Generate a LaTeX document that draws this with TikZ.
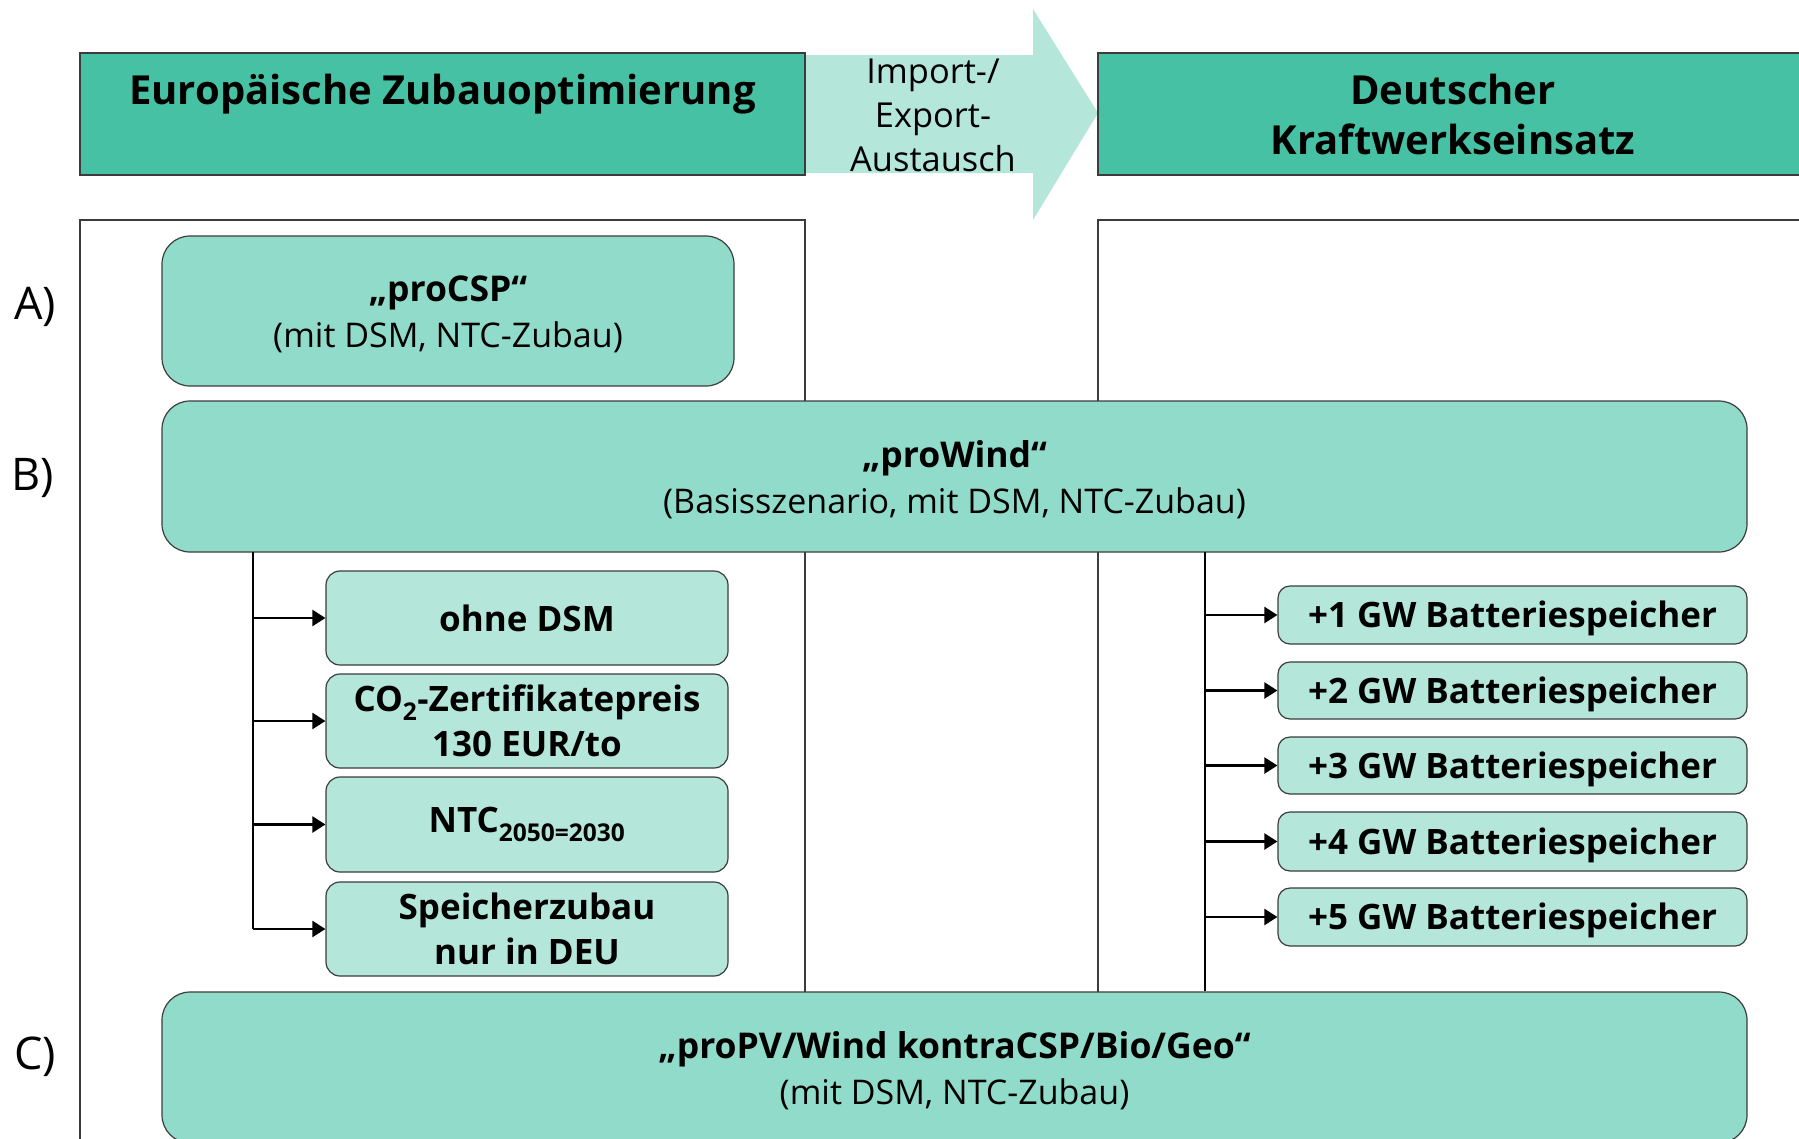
\documentclass[tikz,border=0pt]{standalone}
\usepackage{fontspec}
\setmainfont{Open Sans}
\usetikzlibrary{arrows.meta}
\definecolor{hdrcol}{RGB}{70,193,163}
\definecolor{maincol}{RGB}{145,219,202}
\definecolor{lightcol}{RGB}{180,230,218}
\definecolor{edgecol}{RGB}{60,60,60}
\tikzset{
  hdr/.style={draw=edgecol,line width=1.3pt,fill=hdrcol,inner sep=0pt},
  mainbox/.style={draw=edgecol,line width=1.2pt,fill=maincol,rounded corners=28pt,inner sep=0pt,align=center,
     font=\fontsize{34}{46}\selectfont},
  childbox/.style={draw=edgecol,line width=1.2pt,fill=lightcol,rounded corners=14pt,inner sep=0pt,align=center,
     font=\fontsize{35}{45}\selectfont\bfseries},
  battbox/.style={draw=edgecol,line width=1.2pt,fill=lightcol,rounded corners=12pt,inner sep=0pt,align=center,
     font=\fontsize{35}{42}\selectfont\bfseries,text height=33pt,text depth=8pt},
  frame/.style={draw=edgecol,line width=1.2pt},
  branch/.style={draw=black,line width=2.3pt},
  barrow/.style={draw=black,line width=2.3pt,-{Triangle[length=13pt,width=16pt]}},
  lbl/.style={font=\fontsize{45}{50}\selectfont},
}
\newcommand{\ttl}[1]{{\fontsize{35.5}{46}\selectfont\bfseries\rule{0pt}{33pt}#1}}
\begin{document}
\begin{tikzpicture}[x=1pt,y=-1pt]
\useasboundingbox (0,0) rectangle (1799,1138);
\begin{scope}
\clip (0,0) rectangle (1799,1138);
% import/export arrow
\fill[lightcol] (805,55) -- (1033,55) -- (1033,9) -- (1098,113) -- (1033,220) -- (1033,173) -- (805,173) -- cycle;
\node[align=center,font=\fontsize{34.4}{44}\selectfont] (imp) at (933,115) {Import-/\\Export-\\Austausch};
% headers
\node[hdr,minimum width=725pt,minimum height=122pt] (hl) at (442.5,114) {};
\node[font=\fontsize{40}{50}\selectfont\bfseries] (hlt) at (442.5,94) {Europäische Zubauoptimierung};
\node[hdr,minimum width=710pt,minimum height=122pt,align=center,font=\fontsize{40}{50}\selectfont\bfseries] (hr) at (1453,114) {Deutscher\\Kraftwerkseinsatz};
% frames
\draw[frame] (80,1150) -- (80,220) -- (805,220) -- (805,401);
\draw[frame] (805,552) -- (805,992);
\draw[frame] (1820,220) -- (1098,220) -- (1098,401);
\draw[frame] (1098,552) -- (1098,992);
% main boxes
\node[mainbox,minimum width=572pt,minimum height=150pt] (csp) at (448,311)
  {\ttl{„proCSP“}\\(mit DSM, NTC-Zubau)};
\node[mainbox,minimum width=1585pt,minimum height=151pt] (wind) at (954.5,476.5)
  {\ttl{„proWind“}\\(Basisszenario, mit DSM, NTC-Zubau)};
\node[mainbox,minimum width=1585pt,minimum height=151pt] (pv) at (954.5,1067.5)
  {\ttl{„proPV/Wind kontraCSP/Bio/Geo“}\\(mit DSM, NTC-Zubau)};
% child boxes
\node[childbox,minimum width=402pt,minimum height=94pt] (ohne) at (527,618) {ohne DSM};
\node[childbox,minimum width=402pt,minimum height=94pt] (co2) at (527,721) {CO\textsubscript{2}-Zertifikatepreis\\130 EUR/to};
\node[childbox,minimum width=402pt,minimum height=95pt] (ntc) at (527,824.5) {NTC\textsubscript{2050=2030}};
\node[childbox,minimum width=402pt,minimum height=94pt] (spz) at (527,929) {Speicherzubau\\nur in DEU};
% battery boxes
\node[battbox,minimum width=469pt,minimum height=58pt] (b1) at (1512.5,615) {+1 GW Batteriespeicher};
\node[battbox,minimum width=469pt,minimum height=57pt] (b2) at (1512.5,690.5) {+2 GW Batteriespeicher};
\node[battbox,minimum width=469pt,minimum height=57pt] (b3) at (1512.5,765.5) {+3 GW Batteriespeicher};
\node[battbox,minimum width=469pt,minimum height=59pt] (b4) at (1512.5,841.5) {+4 GW Batteriespeicher};
\node[battbox,minimum width=469pt,minimum height=58pt] (b5) at (1512.5,917) {+5 GW Batteriespeicher};
% branches
\coordinate (lb) at (253,552);
\coordinate (rb) at (1205,552);
\draw[branch] (lb) -- (lb |- spz.west);
\foreach \n in {ohne,co2,ntc,spz} \draw[barrow] (lb |- \n.west) -- (\n.west);
\draw[branch] (rb) -- (rb |- pv.north);
\foreach \n in {b1,b2,b3,b4,b5} \draw[barrow] (rb |- \n.west) -- (\n.west);
% labels
\node[lbl] (la) at (35,307) {A)};
\node[lbl] (lbB) at (33,478) {B)};
\node[lbl] (lc) at (35,1057) {C)};
\end{scope}
\end{tikzpicture}
\end{document}
